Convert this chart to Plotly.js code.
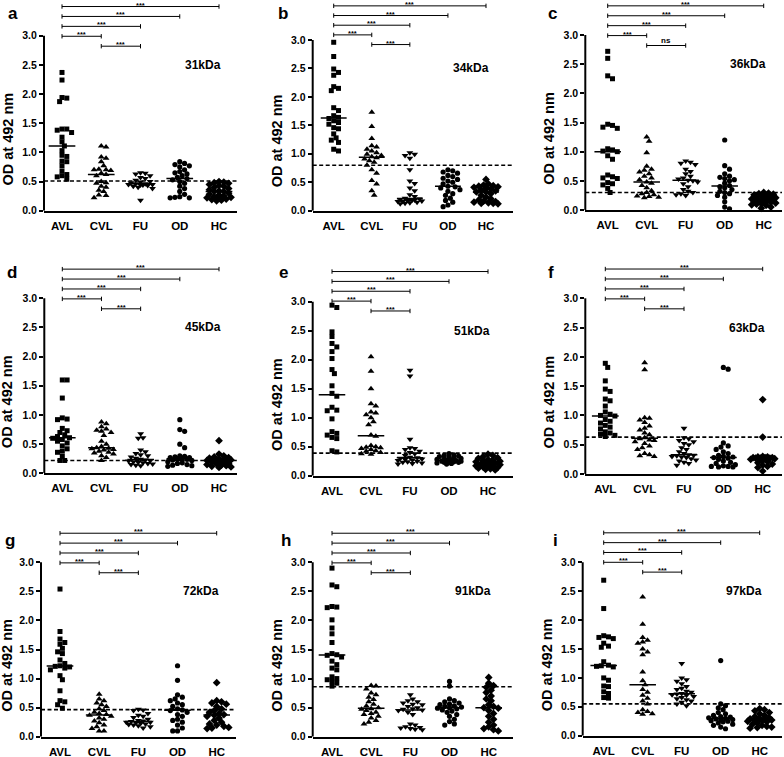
<!DOCTYPE html>
<html>
<head>
<meta charset="utf-8">
<script src="https://cdn.plot.ly/plotly-3.0.1.min.js"></script>
<style>html,body{margin:0;padding:0;background:#fff;}#chart{width:784px;height:757px;}</style>
</head>
<body>
<div id="chart"></div>
<script>
// ---------- DATA ----------
const groups = ['AVL', 'CVL', 'FU', 'OD', 'HC'];
const antigens = ['31kDa', '34kDa', '36kDa', '45kDa', '51kDa', '63kDa', '72kDa', '91kDa', '97kDa'];
const panelLetters = ['a', 'b', 'c', 'd', 'e', 'f', 'g', 'h', 'i'];
const cutoffs = [0.51, 0.80, 0.30, 0.22, 0.39, 0.63, 0.465, 0.86, 0.55];
const comparisons = [[0, 4], [0, 3], [0, 2], [0, 1], [1, 2]];
const sigStars = ['***', '***', '***', '***', '***'];
const sig36kDa = ['***', '***', '***', '***', 'ns'];

// 31kDa
const avl31 = [2.37,2.24,1.94,1.93,1.87,1.40,1.40,1.38,1.34,1.26,1.18,1.11,1.03,0.95,0.93,0.85,0.84,0.77,0.68,0.62,0.60,0.58,0.54];
const cvl31 = [1.11,1.09,0.92,0.90,0.84,0.77,0.71,0.70,0.70,0.69,0.64,0.62,0.60,0.50,0.48,0.47,0.42,0.40,0.35,0.33,0.27,0.26,0.22];
const fu31  = [0.65,0.64,0.63,0.60,0.57,0.55,0.52,0.50,0.49,0.48,0.46,0.46,0.45,0.45,0.44,0.44,0.43,0.42,0.40,0.38,0.18];
const od31  = [0.84,0.81,0.79,0.77,0.75,0.70,0.67,0.65,0.63,0.60,0.57,0.55,0.53,0.50,0.47,0.42,0.38,0.33,0.28,0.24,0.23,0.22,0.22];
const hc31  = [0.50,0.49,0.48,0.47,0.45,0.43,0.42,0.40,0.38,0.36,0.34,0.33,0.33,0.30,0.28,0.27,0.25,0.24,0.23,0.22,0.21,0.20,0.19,0.18,0.17];
// 34kDa
const avl34 = [2.96,2.71,2.49,2.43,2.38,2.18,2.15,2.11,1.81,1.76,1.67,1.64,1.62,1.58,1.55,1.52,1.46,1.44,1.35,1.28,1.24,1.20,1.08,1.05];
const cvl34 = [1.73,1.48,1.27,1.14,1.12,1.08,1.05,1.02,0.99,0.97,0.95,0.93,0.91,0.88,0.85,0.80,0.72,0.66,0.53,0.47,0.35,0.27];
const fu34  = [1.02,0.99,0.97,0.92,0.72,0.52,0.48,0.40,0.35,0.28,0.25,0.22,0.21,0.20,0.20,0.19,0.19,0.18,0.17,0.16,0.16,0.15,0.14,0.13,0.12];
const od34  = [0.72,0.70,0.68,0.66,0.62,0.60,0.57,0.55,0.52,0.50,0.47,0.43,0.42,0.40,0.37,0.34,0.30,0.27,0.22,0.18,0.15,0.10,0.07];
const hc34  = [0.55,0.47,0.45,0.44,0.43,0.42,0.41,0.40,0.38,0.36,0.35,0.33,0.33,0.30,0.27,0.24,0.21,0.19,0.17,0.16,0.15,0.14,0.13,0.13,0.12];
// 36kDa
const avl36 = [2.72,2.60,2.30,2.25,1.47,1.45,1.42,1.40,1.05,1.03,1.01,1.00,0.93,0.87,0.60,0.57,0.55,0.54,0.47,0.45,0.43,0.37,0.30];
const cvl36 = [1.25,1.18,0.98,0.75,0.70,0.68,0.65,0.62,0.58,0.55,0.52,0.48,0.46,0.42,0.38,0.33,0.30,0.28,0.26,0.24,0.23,0.22,0.21];
const fu36  = [0.84,0.82,0.80,0.78,0.70,0.66,0.62,0.58,0.55,0.53,0.51,0.50,0.48,0.45,0.40,0.35,0.32,0.30,0.28,0.26,0.25];
const od36  = [1.20,0.76,0.70,0.62,0.58,0.56,0.54,0.52,0.50,0.46,0.42,0.40,0.38,0.35,0.32,0.30,0.28,0.25,0.22,0.14,0.05,0.02];
const hc36  = [0.30,0.29,0.28,0.27,0.26,0.25,0.24,0.22,0.21,0.20,0.19,0.18,0.18,0.17,0.16,0.15,0.14,0.13,0.12,0.11,0.10,0.09,0.08,0.05,0.03];
// 45kDa
const avl45 = [1.60,1.60,1.29,0.95,0.93,0.92,0.77,0.73,0.70,0.66,0.63,0.61,0.60,0.58,0.55,0.52,0.47,0.42,0.38,0.36,0.29,0.22,0.22];
const cvl45 = [0.88,0.85,0.80,0.76,0.74,0.72,0.70,0.65,0.55,0.50,0.46,0.44,0.43,0.42,0.41,0.40,0.38,0.36,0.35,0.33,0.30,0.27,0.22];
const fu45  = [0.68,0.61,0.60,0.40,0.37,0.34,0.32,0.30,0.28,0.26,0.24,0.23,0.22,0.21,0.20,0.19,0.18,0.17,0.16,0.15,0.14,0.13];
const od45  = [0.92,0.75,0.72,0.50,0.44,0.30,0.29,0.28,0.27,0.27,0.26,0.25,0.25,0.24,0.23,0.22,0.20,0.18,0.17,0.15,0.14,0.13,0.12];
const hc45  = [0.56,0.33,0.30,0.28,0.27,0.26,0.25,0.24,0.23,0.22,0.22,0.21,0.21,0.20,0.19,0.18,0.17,0.16,0.15,0.14,0.13,0.12,0.11,0.10];
// 51kDa
const avl51 = [2.94,2.90,2.48,2.40,2.28,2.22,2.14,2.02,1.83,1.76,1.55,1.42,1.37,1.18,1.13,1.12,0.98,0.76,0.73,0.70,0.66,0.64,0.43,0.41];
const cvl51 = [2.05,1.80,1.50,1.24,1.20,1.10,1.08,1.05,1.00,0.93,0.88,0.70,0.68,0.52,0.50,0.49,0.48,0.47,0.45,0.43,0.42,0.40,0.38,0.37];
const fu51  = [1.82,1.72,0.63,0.48,0.47,0.45,0.42,0.40,0.38,0.35,0.32,0.31,0.30,0.29,0.28,0.27,0.26,0.25,0.24,0.23,0.22,0.21,0.20];
const od51  = [0.38,0.36,0.35,0.34,0.33,0.32,0.31,0.30,0.29,0.28,0.27,0.26,0.26,0.25,0.25,0.24,0.24,0.23,0.23,0.22,0.21,0.20];
const hc51  = [0.37,0.35,0.33,0.31,0.30,0.28,0.27,0.26,0.25,0.24,0.23,0.22,0.21,0.20,0.19,0.18,0.17,0.16,0.15,0.14,0.13,0.12,0.11,0.10];
// 63kDa
const avl63 = [1.89,1.82,1.59,1.45,1.41,1.28,1.25,1.16,1.06,1.02,1.00,0.99,0.93,0.90,0.87,0.83,0.80,0.77,0.72,0.70,0.68,0.66,0.64];
const cvl63 = [1.90,1.78,0.96,0.95,0.92,0.88,0.82,0.78,0.75,0.70,0.67,0.62,0.60,0.58,0.57,0.55,0.52,0.48,0.45,0.42,0.35,0.33,0.31,0.30];
const fu63  = [0.78,0.62,0.60,0.57,0.55,0.52,0.50,0.45,0.42,0.38,0.35,0.33,0.32,0.31,0.30,0.29,0.28,0.26,0.24,0.22,0.20,0.18,0.15];
const od63  = [1.82,1.79,0.53,0.48,0.46,0.42,0.38,0.35,0.32,0.30,0.29,0.28,0.27,0.25,0.22,0.20,0.18,0.16,0.14,0.13,0.13,0.12,0.12];
const hc63  = [1.27,0.63,0.30,0.29,0.29,0.28,0.28,0.28,0.27,0.27,0.27,0.26,0.25,0.23,0.21,0.19,0.17,0.15,0.13,0.11,0.05];
// 72kDa
const avl72 = [2.54,1.81,1.68,1.62,1.59,1.52,1.46,1.43,1.32,1.26,1.22,1.21,1.20,1.18,1.15,1.05,0.98,0.79,0.62,0.60,0.55,0.49];
const cvl72 = [0.73,0.65,0.62,0.58,0.55,0.52,0.48,0.45,0.42,0.40,0.38,0.37,0.35,0.32,0.30,0.27,0.24,0.20,0.17,0.14,0.10,0.10];
const fu72  = [0.47,0.46,0.45,0.40,0.37,0.35,0.33,0.30,0.28,0.27,0.26,0.25,0.25,0.24,0.23,0.22,0.21,0.20,0.19,0.17,0.15];
const od72  = [1.22,0.97,0.72,0.68,0.65,0.62,0.58,0.55,0.52,0.48,0.46,0.45,0.42,0.38,0.35,0.30,0.28,0.25,0.20,0.15,0.10,0.10];
const hc72  = [0.93,0.62,0.60,0.58,0.56,0.52,0.48,0.45,0.42,0.40,0.38,0.37,0.35,0.32,0.28,0.25,0.22,0.20,0.18,0.16,0.15,0.14];
// 91kDa
const avl91 = [2.90,2.61,2.58,2.24,2.23,2.22,2.01,1.87,1.77,1.62,1.43,1.41,1.40,1.37,1.30,1.24,1.18,1.15,1.03,1.00,0.98,0.95,0.92,0.87];
const cvl91 = [0.88,0.87,0.82,0.75,0.72,0.68,0.64,0.60,0.56,0.53,0.50,0.48,0.47,0.45,0.42,0.40,0.38,0.35,0.32,0.28,0.25,0.22];
const fu91  = [0.72,0.65,0.62,0.60,0.58,0.56,0.55,0.52,0.50,0.48,0.47,0.46,0.45,0.42,0.38,0.22,0.20,0.17,0.16,0.15,0.14,0.13,0.12];
const od91  = [0.95,0.87,0.65,0.62,0.60,0.58,0.56,0.55,0.53,0.52,0.51,0.50,0.49,0.48,0.46,0.44,0.42,0.38,0.35,0.30,0.26,0.22,0.20];
const hc91  = [1.02,0.92,0.88,0.85,0.80,0.76,0.70,0.65,0.62,0.55,0.52,0.50,0.49,0.45,0.40,0.35,0.30,0.25,0.20,0.17,0.14,0.12,0.10];
// 97kDa
const avl97 = [2.69,2.20,1.73,1.71,1.70,1.68,1.60,1.55,1.53,1.28,1.22,1.21,1.20,1.19,1.00,0.96,0.86,0.85,0.76,0.73,0.66,0.65];
const cvl97 = [2.40,1.93,1.70,1.65,1.62,1.60,1.50,1.45,1.40,1.10,0.95,0.88,0.80,0.75,0.70,0.65,0.60,0.55,0.45,0.42,0.40,0.38,0.37];
const fu97  = [1.25,1.00,0.97,0.94,0.90,0.85,0.82,0.80,0.77,0.75,0.73,0.72,0.71,0.70,0.68,0.66,0.64,0.62,0.60,0.58,0.55,0.52];
const od97  = [1.30,0.55,0.52,0.48,0.45,0.40,0.38,0.35,0.33,0.32,0.31,0.30,0.29,0.28,0.27,0.26,0.25,0.24,0.22,0.20,0.18,0.15,0.12];
const hc97  = [0.47,0.45,0.43,0.40,0.38,0.35,0.33,0.31,0.30,0.29,0.28,0.27,0.27,0.26,0.25,0.24,0.22,0.20,0.18,0.16,0.15,0.14,0.13];

const panelData = [
  [avl31, cvl31, fu31, od31, hc31],
  [avl34, cvl34, fu34, od34, hc34],
  [avl36, cvl36, fu36, od36, hc36],
  [avl45, cvl45, fu45, od45, hc45],
  [avl51, cvl51, fu51, od51, hc51],
  [avl63, cvl63, fu63, od63, hc63],
  [avl72, cvl72, fu72, od72, hc72],
  [avl91, cvl91, fu91, od91, hc91],
  [avl97, cvl97, fu97, od97, hc97]
];
const panelSig = [sigStars, sigStars, sig36kDa, sigStars, sigStars, sigStars, sigStars, sigStars, sigStars];

// ---------- LAYOUT GEOMETRY (pixels) ----------
const W = 784, H = 757;
const geom = [
  {sx: 44,    ex: 237,   c0: 62,    c4: 219,   y0: 210.7, y3: 35.7,  top: 0,   tx: 8,   lx: 13,  ly: 14},
  {sx: 312.7, ex: 512.7, c0: 333.7, c4: 486,   y0: 210.7, y3: 40,    top: 0,   tx: 277, lx: 283, ly: 13},
  {sx: 585.3, ex: 782,   c0: 607.7, c4: 763.7, y0: 210,   y3: 35,    top: 0,   tx: 549, lx: 552, ly: 14},
  {sx: 44.3,  ex: 237.3, c0: 62.3,  c4: 219,   y0: 473.3, y3: 298.3, top: 257, tx: 7,   lx: 12,  ly: 272},
  {sx: 312.7, ex: 512.7, c0: 332,   c4: 488,   y0: 475.7, y3: 301.7, top: 257, tx: 277, lx: 283, ly: 272},
  {sx: 585.3, ex: 782,   c0: 605.3, c4: 762.7, y0: 474,   y3: 298.3, top: 257, tx: 549, lx: 551, ly: 272},
  {sx: 41,    ex: 235.7, c0: 60,    c4: 216.7, y0: 736.7, y3: 562.3, top: 512, tx: 7,   lx: 10,  ly: 540},
  {sx: 312.7, ex: 512.7, c0: 332,   c4: 488.7, y0: 736.7, y3: 562.3, top: 512, tx: 277, lx: 286, ly: 540},
  {sx: 582.7, ex: 782,   c0: 603.7, c4: 759.7, y0: 735.7, y3: 562.3, top: 512, tx: 547, lx: 555, ly: 540}
];
const bracketLevels = [3.5, 3.33, 3.16, 2.99, 2.82];
const bracketShift = [0, 0.1, 0, 0, 0.02, 0, 0, 0, 0.01];

const symbols = ['square', 'triangle-up', 'triangle-down', 'circle', 'diamond'];
const sizes = [5, 6, 6, 5.2, 6];
const FONT = 'Liberation Sans, Arial, Helvetica, sans-serif';

function median(arr) {
  const s = arr.slice().sort((a, b) => a - b);
  const n = s.length;
  return n % 2 ? s[(n - 1) / 2] : (s[n / 2 - 1] + s[n / 2]) / 2;
}

// beeswarm in pixel space (width-capped) -> x offsets in pixels
function swarm(vals, ppu, d, maxW) {
  const order = vals.map((v, i) => i).sort((a, b) => vals[b] - vals[a]);
  const placed = [];
  const off = new Array(vals.length).fill(0);
  const step = d / 2;
  const cands = [0];
  for (let k = 1; k * step <= maxW; k++) { cands.push(k * step, -k * step); }
  for (const i of order) {
    const y = vals[i] * ppu;
    let chosen = null, best = -1, bestX = 0;
    for (const cx of cands) {
      let minD = Infinity;
      for (const p of placed) {
        const dx = p.x - cx, dy = p.y - y;
        minD = Math.min(minD, Math.sqrt(dx * dx + dy * dy));
      }
      if (minD >= d * 0.95) { chosen = cx; break; }
      if (minD > best + 0.3) { best = minD; bestX = cx; }
    }
    if (chosen === null) chosen = bestX;
    off[i] = chosen;
    placed.push({x: chosen, y: y});
  }
  return off;
}

const traces = [];
const shapes = [];
const annotations = [];
const layout = {
  width: W, height: H,
  margin: {l: 0, r: 0, t: 0, b: 0},
  paper_bgcolor: '#ffffff', plot_bgcolor: 'rgba(0,0,0,0)',
  showlegend: false,
  font: {family: FONT, color: '#000'}
};

panelData.forEach((grp, p) => {
  const g = geom[p];
  const xid = p === 0 ? 'x' : 'x' + (p + 1);
  const yid = p === 0 ? 'y' : 'y' + (p + 1);
  const s = (g.c4 - g.c0) / 4;
  const ppu = (g.y0 - g.y3) / 3;
  const xr = [-(g.c0 - g.sx) / s, 4 + (g.ex - g.c4) / s];
  const topPix = Math.max(g.top, g.y0 - 3.72 * ppu);
  const yr = [0, (g.y0 - topPix) / ppu];

  layout[p === 0 ? 'xaxis' : 'xaxis' + (p + 1)] = {
    domain: [g.sx / W, g.ex / W], range: xr, anchor: yid,
    tickvals: [0, 1, 2, 3, 4], ticktext: groups,
    ticks: 'outside', ticklen: 3, tickcolor: 'rgba(0,0,0,0)',
    showline: true, linewidth: 2, linecolor: '#000',
    showgrid: false, zeroline: false, fixedrange: true,
    tickfont: {family: FONT, size: 11.5, weight: 'bold', color: '#000'}
  };
  layout[p === 0 ? 'yaxis' : 'yaxis' + (p + 1)] = {
    domain: [1 - g.y0 / H, 1 - topPix / H], range: yr, anchor: xid,
    tickvals: [0, 0.5, 1, 1.5, 2, 2.5, 3], tickformat: '.1f',
    ticks: 'outside', ticklen: 4, tickwidth: 2, tickcolor: '#000',
    showline: false, showgrid: false, zeroline: false, fixedrange: true,
    tickfont: {family: FONT, size: 10.5, weight: 'bold', color: '#000'}
  };

  // points and medians
  grp.forEach((vals, gi) => {
    const off = swarm(vals, ppu, 4.8, 14);
    traces.push({
      type: 'scatter', mode: 'markers',
      x: vals.map((v, k) => gi + off[k] / s), y: vals,
      xaxis: xid, yaxis: yid, cliponaxis: false, hoverinfo: 'skip',
      marker: {symbol: symbols[gi], size: sizes[gi], color: '#000', line: {width: 0}}
    });
    const m = median(vals);
    shapes.push({type: 'line', xref: xid, yref: yid, x0: gi - 0.34, x1: gi + 0.34, y0: m, y1: m,
      line: {color: '#000', width: 1.5}});
  });

  // y spine
  shapes.push({type: 'line', xref: xid + ' domain', yref: yid, x0: 0, x1: 0, y0: 0, y1: 3,
    line: {color: '#000', width: 2}});
  // cut-off
  shapes.push({type: 'line', xref: xid + ' domain', yref: yid, x0: 0, x1: 1, y0: cutoffs[p], y1: cutoffs[p],
    line: {color: '#000', width: 1.6, dash: '4px,2.5px'}});

  // significance brackets
  comparisons.forEach((c, k) => {
    const yb = bracketLevels[k] + bracketShift[p];
    const cap = 2.2 / ppu;
    const lab = panelSig[p][k];
    shapes.push({type: 'line', xref: xid, yref: yid, x0: c[0], x1: c[1], y0: yb, y1: yb, line: {color: '#000', width: 1}});
    shapes.push({type: 'line', xref: xid, yref: yid, x0: c[0], x1: c[0], y0: yb - cap, y1: yb + cap, line: {color: '#000', width: 1}});
    shapes.push({type: 'line', xref: xid, yref: yid, x0: c[1], x1: c[1], y0: yb - cap, y1: yb + cap, line: {color: '#000', width: 1}});
    annotations.push({xref: xid, yref: yid, x: (c[0] + c[1]) / 2, y: yb, yanchor: 'bottom',
      yshift: lab === 'ns' ? 0 : -4,
      borderpad: 0, text: lab, showarrow: false,
      font: {family: FONT, size: lab === 'ns' ? 8 : 7.5, weight: 'bold', color: '#000'}});
  });

  // antigen label
  annotations.push({xref: xid, yref: yid, x: 3.6, y: 2.5, text: antigens[p], showarrow: false,
    font: {family: FONT, size: 12, weight: 'bold', color: '#000'}});
  // y title
  annotations.push({xref: 'paper', yref: yid, x: g.tx / W, y: 1.22, text: 'OD at 492 nm', textangle: -90,
    showarrow: false, xanchor: 'center', yanchor: 'middle',
    font: {family: FONT, size: 14.5, weight: 'bold', color: '#000'}});
  // panel letter
  annotations.push({xref: 'paper', yref: 'paper', x: g.lx / W, y: 1 - g.ly / H, text: panelLetters[p],
    showarrow: false, xanchor: 'center', yanchor: 'middle',
    font: {family: FONT, size: 17, weight: 'bold', color: '#000'}});
});

layout.shapes = shapes;
layout.annotations = annotations;

Plotly.newPlot('chart', traces, layout, {displayModeBar: false, staticPlot: true});
</script>
</body>
</html>
